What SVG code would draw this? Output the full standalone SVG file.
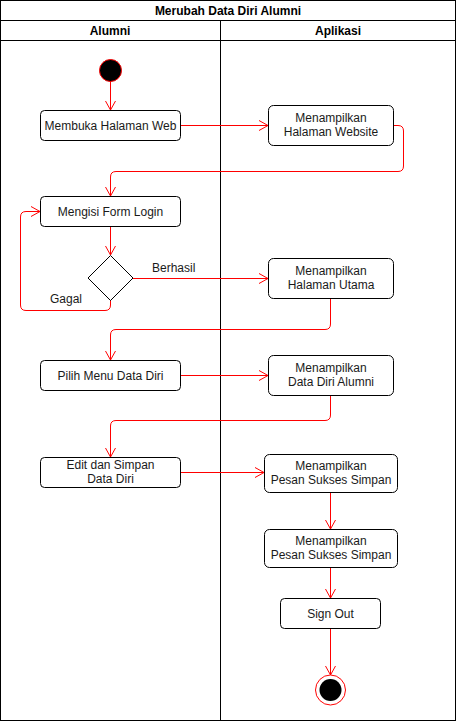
<svg xmlns="http://www.w3.org/2000/svg" width="456" height="721" viewBox="0 0 456 721">
<defs>
<style>
text{font-family:"Liberation Sans",Arial,sans-serif;font-size:12px;fill:#1a1a1a;text-anchor:middle}
.b{font-weight:bold;fill:#000}
.box{fill:#fff;stroke:#000;stroke-width:1}
.c{fill:none;stroke:#ff0000;stroke-width:1;marker-end:url(#arr)}
.lbl{text-anchor:start}
</style>
<marker id="arr" markerUnits="userSpaceOnUse" viewBox="-10 -6 12 12" refX="0" refY="0" markerWidth="12" markerHeight="12" orient="auto">
<path d="M-9,-5 L0,0 L-9,5" fill="none" stroke="#ff0000" stroke-width="1"/>
</marker>
</defs>
<rect x="0" y="0" width="456" height="721" fill="#fff"/>
<g id="pool">
<rect x="0.5" y="0.5" width="455" height="720" fill="none" stroke="#000"/>
<line x1="0.5" y1="20.5" x2="455.5" y2="20.5" stroke="#000"/>
<line x1="0.5" y1="40.5" x2="455.5" y2="40.5" stroke="#000"/>
<line x1="220.5" y1="20.5" x2="220.5" y2="720.5" stroke="#000"/>
<text class="b" x="228" y="15">Merubah Data Diri Alumni</text>
<text class="b" x="110" y="35">Alumni</text>
<text class="b" x="338" y="35">Aplikasi</text>
</g>
<g id="connectors">
<path class="c" d="M110.5,81 L110.5,110"/>
<path class="c" d="M180,125.5 L268,125.5"/>
<path class="c" d="M393,125.5 L398,125.5 Q403.5,125.5 403.5,131 L403.5,166 Q403.5,171.5 398,171.5 L116,171.5 Q110.5,171.5 110.5,177 L110.5,196"/>
<path class="c" d="M110.5,226 L110.5,255"/>
<path class="c" d="M133,278.5 L268,278.5"/>
<path class="c" d="M110.5,300 L110.5,305 Q110.5,310.5 105,310.5 L26,310.5 Q20.5,310.5 20.5,305 L20.5,217 Q20.5,211.5 26,211.5 L40,211.5"/>
<path class="c" d="M330.5,298 L330.5,324 Q330.5,329.5 325,329.5 L116,329.5 Q110.5,329.5 110.5,335 L110.5,360"/>
<path class="c" d="M180,375.5 L268,375.5"/>
<path class="c" d="M330.5,395 L330.5,415 Q330.5,420.5 325,420.5 L116,420.5 Q110.5,420.5 110.5,426 L110.5,457"/>
<path class="c" d="M180,472.5 L264,472.5"/>
<path class="c" d="M330.5,492 L330.5,529"/>
<path class="c" d="M330.5,567 L330.5,598"/>
<path class="c" d="M330.5,628 L330.5,675"/>
<text class="lbl" x="152" y="272">Berhasil</text>
<text class="lbl" x="50" y="303">Gagal</text>
</g>
<g id="start"><circle cx="110.5" cy="70.5" r="11" fill="#000" stroke="#ff0000"/></g>
<g id="membuka"><rect class="box" x="40.5" y="110.5" width="140" height="30" rx="4"/><text x="110.5" y="129.5">Membuka Halaman Web</text></g>
<g id="website"><rect class="box" x="268.5" y="105.5" width="125" height="40" rx="5"/><text x="331" y="122">Menampilkan</text><text x="331" y="136">Halaman Website</text></g>
<g id="mengisi"><rect class="box" x="40.5" y="196.5" width="140" height="30" rx="4"/><text x="110.5" y="215.5">Mengisi Form Login</text></g>
<g id="decision"><path d="M110.5,255.5 L133,278 L110.5,300.5 L88,278 Z" fill="#fff" stroke="#000"/></g>
<g id="utama"><rect class="box" x="268.5" y="258.5" width="125" height="40" rx="5"/><text x="331" y="275">Menampilkan</text><text x="331" y="289">Halaman Utama</text></g>
<g id="pilih"><rect class="box" x="40.5" y="360.5" width="140" height="30" rx="4"/><text x="110.5" y="379.5">Pilih Menu Data Diri</text></g>
<g id="datadiri"><rect class="box" x="268.5" y="355.5" width="125" height="40" rx="5"/><text x="331" y="372">Menampilkan</text><text x="331" y="386">Data Diri Alumni</text></g>
<g id="edit"><rect class="box" x="40.5" y="457.5" width="140" height="30" rx="4"/><text x="110.5" y="469">Edit dan Simpan</text><text x="110.5" y="483">Data Diri</text></g>
<g id="pesan1"><rect class="box" x="264.5" y="454.5" width="133" height="38" rx="5"/><text x="331" y="470">Menampilkan</text><text x="331" y="484">Pesan Sukses Simpan</text></g>
<g id="pesan2"><rect class="box" x="264.5" y="529.5" width="133" height="38" rx="5"/><text x="331" y="545">Menampilkan</text><text x="331" y="559">Pesan Sukses Simpan</text></g>
<g id="signout"><rect class="box" x="280.5" y="598.5" width="100" height="30" rx="4"/><text x="330.5" y="617.5">Sign Out</text></g>
<g id="end"><circle cx="330.5" cy="690" r="15" fill="#fff" stroke="#ff0000"/><circle cx="330.5" cy="690" r="11" fill="#000"/></g>
</svg>
